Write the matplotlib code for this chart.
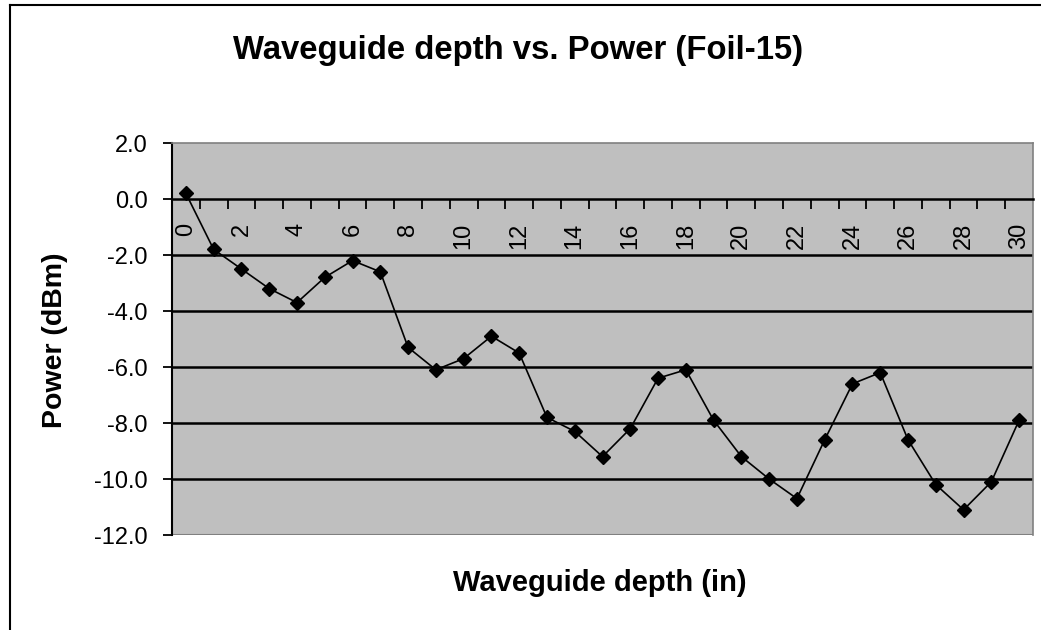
import numpy as np
import matplotlib
matplotlib.use('Agg')
import matplotlib.pyplot as plt
from matplotlib.lines import Line2D
from matplotlib.ticker import FixedLocator, FuncFormatter

plt.rcParams['font.family'] = ['Liberation Sans', 'DejaVu Sans']

# data
depth = list(range(0, 31))
power = [0.2, -1.8, -2.5, -3.2, -3.7, -2.8, -2.2, -2.6, -5.3, -6.1,
         -5.7, -4.9, -5.5, -7.8, -8.3, -9.2, -8.2, -6.4, -6.1, -7.9,
         -9.2, -10.0, -10.7, -8.6, -6.6, -6.2, -8.6, -10.2, -11.1, -10.1,
         -7.9]
xlabels = [str(d) for d in depth[::2]]
yticks = [-12.0, -10.0, -8.0, -6.0, -4.0, -2.0, 0.0, 2.0]

fig = plt.figure(figsize=(10.41, 6.3), dpi=100)
ax = fig.add_axes([172/1041, 1-535/630, (1033-172)/1041, (535-143)/630])
ax.set_facecolor('#bfbfbf')

# horizontal gridlines
for y in yticks[1:-2]:
    ax.axhline(y, color='black', lw=1.8, zorder=1)

ax.plot(depth, power, color='black', lw=1.2, marker='D', ms=7,
        mfc='black', mec='black', zorder=3)

ax.set_xlim(-0.5, 30.5)
ax.set_ylim(-12, 2)

ax.spines['bottom'].set_position(('data', 0))
ax.spines['bottom'].set_linewidth(1.8)
ax.spines['left'].set_linewidth(1.5)
for s in ['top', 'right']:
    ax.spines[s].set_color('#808080')
    ax.spines[s].set_linewidth(1.2)
# gray frame at bottom of plot area
ax.axhline(-12, color='#808080', lw=1.5, zorder=2)

ax.xaxis.set_major_locator(FixedLocator(depth[::2]))
ax.set_xticklabels(xlabels, rotation=90, fontsize=17)
ax.xaxis.set_minor_locator(FixedLocator([d + 0.5 for d in depth[:-1]]))
ax.tick_params(axis='x', which='major', length=0, pad=17)
ax.tick_params(axis='x', which='minor', length=7.2, width=1.3, direction='out', color='black')

ax.set_yticks(yticks)
ax.yaxis.set_major_formatter(FuncFormatter(lambda v, p: '%.1f' % v))
ax.tick_params(axis='y', length=6.5, width=1.3, pad=11, labelsize=17)

fig.text(518/1041, 1-51/630, 'Waveguide depth vs. Power (Foil-15)',
         ha='center', va='center', fontsize=23.7, fontweight='bold')
fig.text(600/1041, 1-583/630, 'Waveguide depth (in)', ha='center', va='center',
         fontsize=21, fontweight='bold')
fig.text(55/1041, 1-340/630, 'Power (dBm)', ha='center', va='center',
         rotation=90, fontsize=20.5, fontweight='bold')

# outer chart border (left and top only visible)
fig.add_artist(Line2D([10/1041, 10/1041], [0, 1-5/630], color='black', lw=1.5,
                      transform=fig.transFigure))
fig.add_artist(Line2D([10/1041, 1], [1-5/630, 1-5/630], color='black', lw=1.5,
                      transform=fig.transFigure))

fig.savefig('out.png', dpi=100)
